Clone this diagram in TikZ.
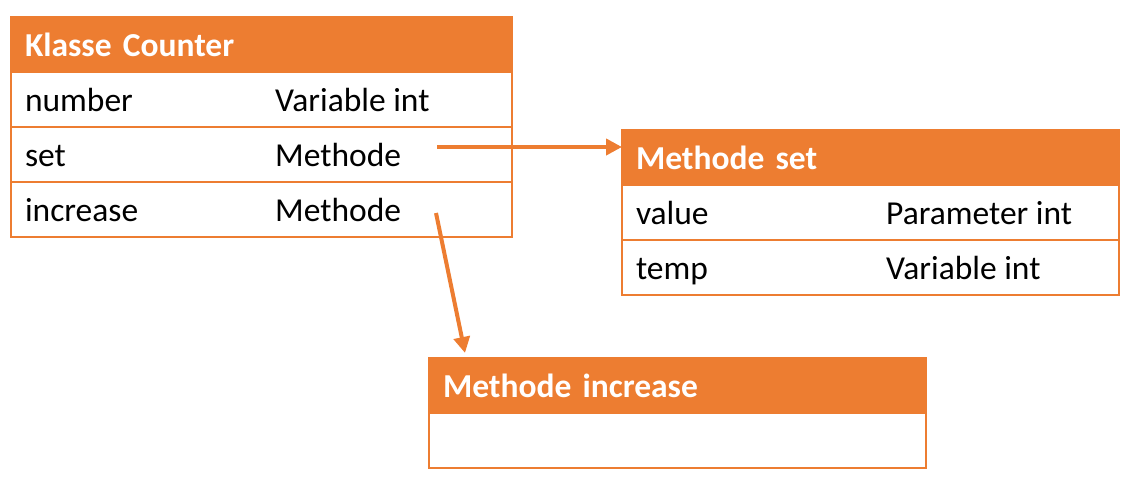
\documentclass[tikz,border=0pt]{standalone}
\usepackage{fontspec}
\setmainfont{Carlito}
\usepackage{tikz}
\usetikzlibrary{calc,arrows.meta}
\definecolor{accent}{HTML}{ED7D31}
\newcommand*{\TableRows}[4]{% #1 = prefix, #2 = head node, #3 = width, #4 = list of k/left/right
\foreach \k/\l/\r in {#4} {
\node [cell, text width=#3-28pt]
(#1\k) at ($(#2.south west)+(0,{(\k-1)*55})$) {\l};
\node [celltext] at ($(#1\k.base west)+(264,0)$) {\r};
}%
}

\begin{document}
\begin{tikzpicture}[x=1pt,y=-1pt,
    head/.style={anchor=north west, fill=accent, draw=accent, line width=1.5pt,
        text=white, font=\fontsize{33.5}{40}\selectfont\bfseries, align=left,
        minimum height=55pt, inner xsep=14pt, inner ysep=0pt, outer sep=0pt,
        text height=28.5pt, text depth=5pt},
    cell/.style={anchor=north west, draw=accent, line width=1.5pt,
        font=\fontsize{33.5}{40}\selectfont, align=left,
        minimum height=55pt, inner xsep=14pt, inner ysep=0pt, outer sep=0pt,
        text height=28.5pt, text depth=5pt},
    celltext/.style={anchor=base west, inner sep=0pt, font=\fontsize{33.5}{40}\selectfont},
    link/.style={draw=accent, line width=4pt, -{Triangle[length=16pt,width=16pt]}}]

    \useasboundingbox (0,0) rectangle (1139,492);

    % Klasse Counter
    \node [head, text width=501pt-28pt] (hcounter) at (11,17) {Klasse Counter};
    \TableRows{counter}{hcounter}{501pt}{1/number/Variable int, 2/set/Methode, 3/increase/Methode}

    % Methode set
    \node [head, text width=497pt-28pt] (hset) at (622,130) {Methode set};
    \TableRows{set}{hset}{497pt}{1/value/Parameter int, 2/temp/Variable int}

    % Methode increase
    \node [head, text width=497pt-28pt] (hinc) at (429,358) {Methode increase};
    \TableRows{inc}{hinc}{497pt}{1/{}/{}}

    % arrows
    \coordinate (setfrom) at (437,147);
    \coordinate (setto) at (hset.west |- setfrom);
    \coordinate (incfrom) at (436,213);
    \coordinate (incto) at (465,353);
    \draw [link] (setfrom) -- (setto);
    \draw [link] (incfrom) -- (incto);

\end{tikzpicture}
\end{document}
